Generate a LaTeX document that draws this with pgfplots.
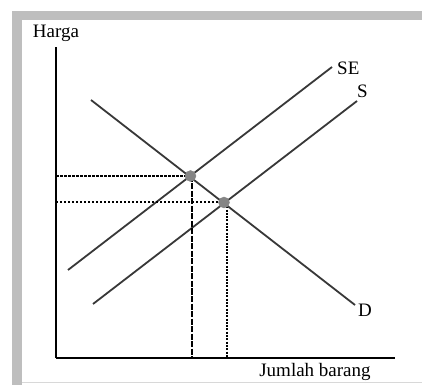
\documentclass[border=0pt]{standalone}
\usepackage{pgfplots}
\pgfplotsset{compat=1.18}
\usepackage{fontspec}
\setmainfont{Liberation Serif}
\definecolor{framegray}{HTML}{BEBEBE}
\definecolor{linegray}{HTML}{383838}
\definecolor{dotgray}{HTML}{858585}
\begin{document}
\begin{tikzpicture}
\path[use as bounding box, fill=white] (-56pt,-27pt) rectangle (366pt,358pt);
\fill[framegray] (-44pt,-27pt) rectangle (-34pt,347pt);
\fill[framegray] (-44pt,338pt) rectangle (366pt,347pt);
\draw[framegray!60, line width=0.8pt] (-34pt,-24pt) -- (366pt,-24pt);
\begin{axis}[
  at={(0pt,0pt)}, anchor=south west,
  scale only axis, width=339pt, height=311pt,
  xmin=0, xmax=339, ymin=0, ymax=311,
  axis x line=bottom, axis y line=left,
  axis line style={-, line width=2.8pt, black},
  xtick=\empty, ytick=\empty,
  clip=false,
  font=\fontsize{19}{22}\selectfont,
  xlabel={Jumlah barang}, ylabel={Harga},
  every axis x label/.style={at={(axis cs:259,0)}, anchor=base, yshift=-18pt},
  every axis y label/.style={at={(axis description cs:0,1)}, anchor=base, yshift=9pt},
]
% D
\addplot[linegray, line width=1.8pt] coordinates {(35,258) (299,53)};
% SE
\addplot[linegray, line width=1.8pt] coordinates {(12,88) (276,291)};
% S
\addplot[linegray, line width=1.8pt] coordinates {(37,54) (301,257)};
% guide lines E1
\addplot[black, line width=1.6pt, dash pattern=on 3pt off 1pt] coordinates {(0,182) (134,182)};
\addplot[black, line width=1.5pt, dash pattern=on 6pt off 1.5pt] coordinates {(136,182) (136,0)};
% guide lines E2
\addplot[black, line width=2pt, dash pattern=on 1.8pt off 2.2pt] coordinates {(0,156) (168,156)};
\addplot[black, line width=2.3pt, dash pattern=on 2pt off 1.3pt] coordinates {(171,155) (171,0)};
% equilibrium points
\addplot[only marks, mark=*, mark size=5.5pt, dotgray, mark options={draw=dotgray, fill=dotgray}] coordinates {(134.5,182) (168,155.5)};
\node[anchor=base west, inner sep=0pt, font=\fontsize{19}{22}\selectfont] at (axis cs:281,283) {SE};
\node[anchor=base west, inner sep=0pt, font=\fontsize{19}{22}\selectfont] at (axis cs:301,260) {S};
\node[anchor=base west, inner sep=0pt, font=\fontsize{19}{22}\selectfont] at (axis cs:302,42) {D};
\end{axis}
\end{tikzpicture}
\end{document}
